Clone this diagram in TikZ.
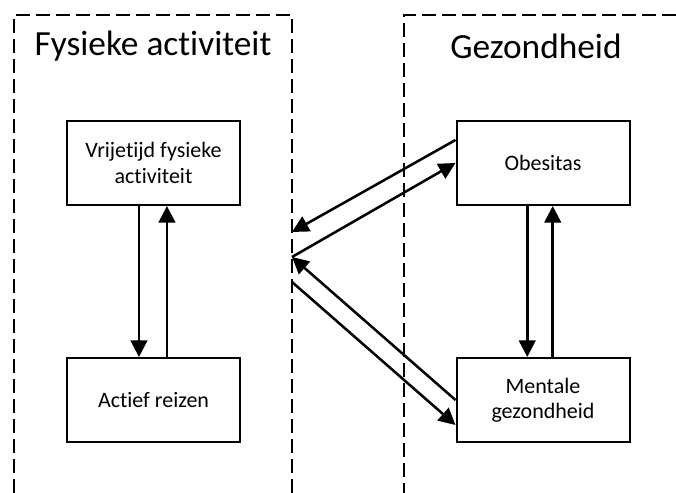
\documentclass[tikz,border=0pt]{standalone}
\usepackage{fontspec}
\setmainfont{Carlito}[Ligatures=NoCommon]
\usetikzlibrary{arrows.meta}

\begin{document}
\begin{tikzpicture}[x=0.75pt,y=-0.75pt,>={Triangle[length=12.5pt,width=12.5pt]},
  box/.style={draw,line width=1.5pt,minimum width=129.75pt,minimum height=63pt,
    align=center,font=\fontsize{16.5}{19}\selectfont},
  title/.style={font=\fontsize{26.5}{30}\selectfont},
  link/.style={->,line width=1.9pt},
  group/.style={line width=1.1pt,dash pattern=on 10.5pt off 4.5pt}]
  \useasboundingbox (0,0) rectangle (676,493);
  % groups
  \draw[group] (14,493) -- (14,15) -- (292,15) -- (292,493);
  \draw[group] (676,15) -- (404,15) -- (404,493);
  \node[title] (fa) at (153,46) {Fysieke activiteit};
  \node[title] (gz) at (536,46) {Gezondheid};
  % boxes
  \node[box] (vrij)    at (153.5,163) {Vrijetijd fysieke\\activiteit};
  \node[box] (actief)  at (153.5,400) {Actief reizen};
  \node[box] (obes)    at (543,163)   {Obesitas};
  \node[box] (mentaal) at (543,400)   {Mentale\\gezondheid};
  % left pair
  \draw[link] ([xshift=-10.9pt]vrij.south) -- ([xshift=-10.9pt]actief.north);
  \draw[link] ([xshift=10.1pt]actief.north) -- ([xshift=10.1pt]vrij.south);
  % right pair
  \draw[link] ([xshift=-11.8pt]obes.south) -- ([xshift=-11.8pt]mentaal.north);
  \draw[link] ([xshift=7.3pt]mentaal.north) -- ([xshift=7.3pt]obes.south);
  % between the groups
  \coordinate (p1) at (292,232);
  \coordinate (p2) at (292,257);
  \coordinate (p3) at (292,282);
  \draw[link] ([yshift=17.25pt]obes.west) -- (p1);
  \draw[link] (p2) -- (obes.west);
  \draw[link] (mentaal.west) -- (p2);
  \draw[link] (p3) -- ([yshift=-18.75pt]mentaal.west);
\end{tikzpicture}
\end{document}
